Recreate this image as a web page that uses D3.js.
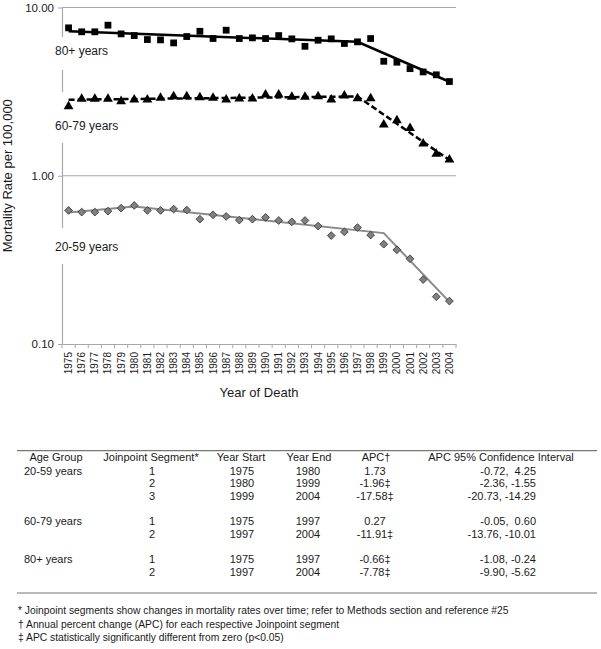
<!DOCTYPE html>
<html>
<head>
<meta charset="utf-8">
<script src="https://cdn.jsdelivr.net/npm/d3@7/dist/d3.min.js"></script>
<style>
  html, body { margin: 0; padding: 0; background: #fff; }
  svg { display: block; font-family: "Liberation Sans", Arial, sans-serif; }
</style>
</head>
<body>
<svg id="chart" width="601" height="649"></svg>
<script>
// ---------- Data ----------
const years = d3.range(1975, 2005).map(String);
const rate80 = [7.57, 7.17, 7.17, 7.85, 6.97, 6.81, 6.45, 6.42, 6.16, 6.72,
                7.22, 6.54, 7.33, 6.54, 6.60, 6.54, 6.81, 6.51, 5.88, 6.39,
                6.51, 6.11, 6.25, 6.54, 4.79, 4.73, 4.33, 4.14, 3.98, 3.63];
const rate6079 = [2.58, 2.86, 2.86, 2.86, 2.77, 2.83, 2.83, 2.90, 2.96, 2.96,
                  2.92, 2.90, 2.83, 2.87, 2.87, 3.03, 3.03, 2.94, 2.94, 2.96,
                  2.83, 2.99, 2.88, 2.88, 2.01, 2.13, 1.92, 1.55, 1.35, 1.245];
const rate2059 = [0.622, 0.608, 0.608, 0.616, 0.642, 0.666, 0.622, 0.622, 0.634, 0.625,
                  0.552, 0.586, 0.573, 0.545, 0.552, 0.565, 0.542, 0.532, 0.542, 0.502,
                  0.441, 0.464, 0.492, 0.444, 0.392, 0.363, 0.321, 0.2415, 0.191, 0.180];
// Joinpoint fitted segments (year, fitted rate)
const fitYears80 = ["1975", "1997", "2004"];
const fitVals80 = [7.22, 6.25, 3.62];
const fitYears6079 = ["1975", "1997", "2004"];
const fitVals6079 = [2.83, 2.96, 1.24];
const fitYears2059 = ["1975", "1980", "1999", "2004"];
const fitVals2059 = [0.605, 0.656, 0.456, 0.178];
const yTicks = [0.1, 1, 10];
const seriesLabels = ["80+ years", "60-79 years", "20-59 years"];

// Table
const tableHeaders = ["Age Group", "Joinpoint Segment*", "Year Start", "Year End", "APC\u2020", "APC 95% Confidence Interval"];
const tableAge   = ["20-59 years", "", "", null, "60-79 years", "", null, "80+ years", ""];
const tableSeg   = ["1", "2", "3", null, "1", "2", null, "1", "2"];
const tableStart = ["1975", "1980", "1999", null, "1975", "1997", null, "1975", "1997"];
const tableEnd   = ["1980", "1999", "2004", null, "1997", "2004", null, "1997", "2004"];
const tableAPC   = ["1.73", "-1.96\u2021", "-17.58\u2021", null, "0.27", "-11.91\u2021", null, "-0.66\u2021", "-7.78\u2021"];
const tableCI    = ["-0.72,  4.25", "-2.36, -1.55", "-20.73, -14.29", null, "-0.05,  0.60", "-13.76, -10.01", null, "-1.08, -0.24", "-9.90, -5.62"];
const footnotes = [
  "* Joinpoint segments show changes in mortality rates over time; refer to Methods section and reference #25",
  "\u2020 Annual percent change (APC) for each respective Joinpoint segment",
  "\u2021 APC statistically significantly different from zero (p<0.05)"
];

(function () {
// ---------- Layout ----------
const svg = d3.select("#chart");
const pLeft = 62, pRight = 456, pTop = 7.5, pBottom = 344;
const x = d3.scaleBand().domain(years).range([pLeft, pRight]);
const xc = d => x(d) + x.bandwidth() / 2;
const y = d3.scaleLog().domain([0.1, 10]).range([pBottom, pTop]);
const gridColor = "#a8a8a8";
const textColor = "#1a1a1a";

// Gridlines
svg.append("g").selectAll("line").data(yTicks.filter(t => t !== 0.1)).join("line")
  .attr("x1", pLeft).attr("x2", pRight)
  .attr("y1", d => y(d)).attr("y2", d => y(d))
  .attr("stroke", gridColor).attr("stroke-width", 1.2);

// Y axis
const yAxis = d3.axisLeft(y).tickValues(yTicks).tickFormat(d3.format(".2f")).tickSize(4).tickSizeOuter(0);
const gy = svg.append("g").attr("transform", `translate(${pLeft},0)`).call(yAxis);
gy.select(".domain").attr("stroke", gridColor).attr("stroke-width", 1.2);
gy.selectAll(".tick line").attr("stroke", gridColor);
gy.selectAll(".tick text").attr("font-size", 11.5).attr("fill", textColor)
  .attr("font-family", "Liberation Sans, Arial, sans-serif").attr("x", -8);

// X axis
const xAxis = d3.axisBottom(x).tickSize(0).tickSizeOuter(0);
const gx = svg.append("g").attr("transform", `translate(0,${pBottom})`).call(xAxis);
gx.select(".domain").attr("stroke", gridColor).attr("stroke-width", 1.2);
gx.selectAll(".tick text")
  .attr("font-size", 10).attr("fill", textColor)
  .attr("font-family", "Liberation Sans, Arial, sans-serif")
  .attr("transform", "rotate(-90)")
  .attr("text-anchor", "end")
  .attr("x", -8).attr("y", 0).attr("dy", "0.35em");
// boundary tick marks
const bounds = years.map(d => x(d)).concat([pRight]);
svg.append("g").selectAll("line").data(bounds).join("line")
  .attr("x1", d => d).attr("x2", d => d)
  .attr("y1", pBottom).attr("y2", pBottom + 4)
  .attr("stroke", gridColor).attr("stroke-width", 1);

// Axis titles
svg.append("text")
  .attr("transform", `translate(12,${(pTop + pBottom) / 2}) rotate(-90)`)
  .attr("text-anchor", "middle").attr("font-size", 13).attr("fill", textColor)
  .text("Mortality Rate per 100,000");
svg.append("text")
  .attr("x", (pLeft + pRight) / 2).attr("y", 397)
  .attr("text-anchor", "middle").attr("font-size", 13).attr("fill", textColor)
  .text("Year of Death");

// Series labels with white boxes (covering the axis line)
const labelBoxes = [[37, 70, 55], [92, 143, 130], [228, 264, 251]];
labelBoxes.forEach((b, i) => {
  svg.append("rect").attr("x", 50).attr("y", b[0]).attr("width", 75).attr("height", b[1] - b[0]).attr("fill", "#fff");
  svg.append("text").attr("x", 55).attr("y", b[2]).attr("font-size", 12).attr("fill", textColor).text(seriesLabels[i]);
});

// Fitted lines
const line = d3.line().x(d => xc(d[0])).y(d => y(d[1]));
svg.append("path").datum(d3.zip(fitYears2059, fitVals2059)).attr("d", line)
  .attr("fill", "none").attr("stroke", "#8a8a8a").attr("stroke-width", 2);
svg.append("path").datum(d3.zip(fitYears6079, fitVals6079)).attr("d", line)
  .attr("fill", "none").attr("stroke", "#000").attr("stroke-width", 2.5).attr("stroke-dasharray", "6,3");
svg.append("path").datum(d3.zip(fitYears80, fitVals80)).attr("d", line)
  .attr("fill", "none").attr("stroke", "#000").attr("stroke-width", 2.5);

// Markers
const sq = d3.symbol().type(d3.symbolSquare).size(46);
svg.append("g").selectAll("path").data(d3.zip(years, rate80)).join("path")
  .attr("d", sq).attr("transform", d => `translate(${xc(d[0])},${y(d[1])})`).attr("fill", "#000");
const tri = d3.symbol().type(d3.symbolTriangle).size(42);
svg.append("g").selectAll("path").data(d3.zip(years, rate6079)).join("path")
  .attr("d", tri).attr("transform", d => `translate(${xc(d[0])},${y(d[1])})`).attr("fill", "#000");
const dia = d3.symbol().type(d3.symbolSquare).size(30);
svg.append("g").selectAll("path").data(d3.zip(years, rate2059)).join("path")
  .attr("d", dia).attr("transform", d => `translate(${xc(d[0])},${y(d[1])}) rotate(45)`)
  .attr("fill", "#808080").attr("stroke", "#333").attr("stroke-width", 0.8);

// ---------- Table ----------
const tLeft = 17, tRight = 597, tTop = 450.7, tBottom = 593;
svg.append("line").attr("x1", tLeft).attr("x2", tRight).attr("y1", tTop).attr("y2", tTop).attr("stroke", "#777").attr("stroke-width", 1.2);
svg.append("line").attr("x1", tLeft).attr("x2", tRight).attr("y1", tBottom).attr("y2", tBottom).attr("stroke", "#777").attr("stroke-width", 1.2);
const headerX = [56, 151, 241, 309, 376, 501];
svg.append("g").selectAll("text").data(tableHeaders).join("text")
  .attr("x", (d, i) => headerX[i]).attr("y", 461).attr("text-anchor", "middle")
  .attr("font-size", 11).attr("fill", textColor).text(d => d);

const rowY = i => 474.5 + i * 12.7;
const colSpecs = [
  { data: tableAge, x: 24, anchor: "start" },
  { data: tableSeg, x: 152, anchor: "middle" },
  { data: tableStart, x: 242, anchor: "middle" },
  { data: tableEnd, x: 308, anchor: "middle" },
  { data: tableAPC, x: 375, anchor: "middle" },
  { data: tableCI, x: 536, anchor: "end" }
];
colSpecs.forEach(c => {
  svg.append("g").selectAll("text").data(c.data.map((v, i) => [v, i]).filter(d => d[0])).join("text")
    .attr("x", c.x).attr("y", d => rowY(d[1])).attr("text-anchor", c.anchor)
    .attr("font-size", 11).attr("fill", textColor).style("white-space", "pre")
    .text(d => d[0]);
});

// Footnotes
svg.append("g").selectAll("text").data(footnotes).join("text")
  .attr("x", 18).attr("y", (d, i) => 614 + i * 13.7)
  .attr("font-size", 10.3).attr("fill", textColor).text(d => d);
})();
</script>
</body>
</html>
